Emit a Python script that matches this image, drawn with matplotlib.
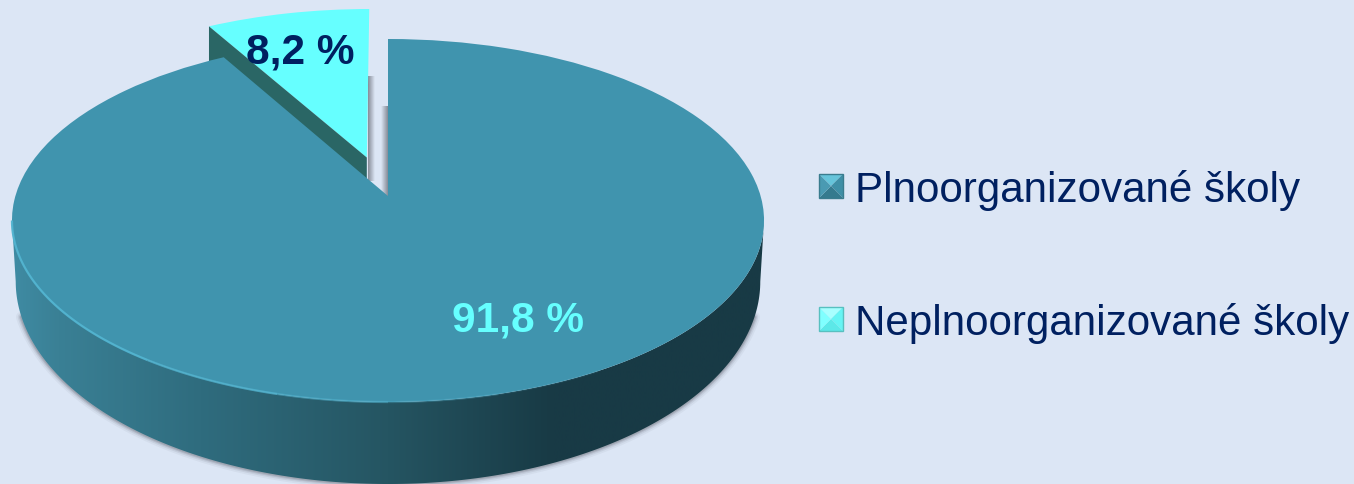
import matplotlib
matplotlib.use("Agg")
import matplotlib.pyplot as plt
import matplotlib.transforms as mtransforms
from matplotlib.colors import LinearSegmentedColormap
from matplotlib.patches import Polygon
import numpy as np

categories = ["Plnoorganizované školy", "Neplnoorganizované školy"]
values = [91.8, 8.2]
explode = [0, 0.23]

BG = "#dce6f5"
TOP_COLORS = ["#4094ae", "#66ffff"]
WALL_COLOR = "#2a6665"
TEXT_COLOR = "#002060"

W, H = 1354, 485
CX, CY = 388, 197      # pie centre in pixels
P = 0.135              # perspective strength
A, B = 372.6, 178.2    # x and y scale of the disc
DEPTH = 80


class DiscTransform(mtransforms.Transform):
    # maps the flat unit pie to the tilted disc, dz pushes it down
    input_dims = 2
    output_dims = 2

    def __init__(self, dz=0):
        super().__init__()
        self.dz = dz

    def transform_non_affine(self, values):
        values = np.asarray(values, dtype=float)
        w = 1 + P * values[:, 1]
        x = CX + A * values[:, 0] / w
        y = CY - B * values[:, 1] / w + self.dz
        return np.column_stack([x, y])


def disc_points(t_deg, dz=0):
    t = np.radians(t_deg)
    return DiscTransform(dz).transform_non_affine(np.column_stack([np.cos(t), np.sin(t)]))


def base_points(t_deg):
    # bottom outline of the pie, a bit narrower and rounder than the top
    pts = disc_points(t_deg)
    x = CX + 0.99 * (pts[:, 0] - CX)
    y = 283 + (pts[:, 1] - 222) * 202 / 181
    return np.column_stack([x, y])


fig = plt.figure(figsize=(W / 100, H / 100), dpi=100, facecolor=BG)
ax = fig.add_axes([0, 0, 1, 1])

wedges, _ = ax.pie(values, colors=TOP_COLORS, explode=explode, startangle=90,
                   counterclock=False, wedgeprops={"linewidth": 0})
ax.set_aspect("auto")
ax.set_facecolor(BG)
ax.set_axis_off()

big, small = wedges
disc = DiscTransform()
big.set_transform(disc + ax.transData)
small.set_transform(disc + ax.transData)
big.set_zorder(6)
small.set_zorder(3)

# wall on the left cut of the pulled out slice
sx, sy = small.center
t1 = np.radians(small.theta2)
wall_uv = np.array([[sx, sy], [sx + np.cos(t1), sy + np.sin(t1)]])
wall_top = disc.transform_non_affine(wall_uv)
wall_low = DiscTransform(DEPTH).transform_non_affine(wall_uv)
ax.add_patch(Polygon(np.vstack([wall_top, wall_low[::-1]]), closed=True,
                     facecolor=WALL_COLOR, edgecolor="none", zorder=4))

# side of the big slice
t_left = 180 + np.degrees(np.arcsin(P))
t_right = 360 - np.degrees(np.arcsin(P))
ts = np.linspace(t_left, t_right, 200)
upper = disc_points(ts)
lower = base_points(ts)
side = Polygon(np.vstack([upper, lower[::-1]]), closed=True, facecolor="none",
               edgecolor="none", zorder=5)
ax.add_patch(side)
side_cmap = LinearSegmentedColormap.from_list(
    "side", [(0, "#3f8ba3"), (0.06, "#3a8095"), (0.25, "#2f6c7e"), (0.5, "#255562"),
             (0.72, "#183a45"), (1, "#183a45")])
grad = ax.imshow(np.linspace(0, 1, 256).reshape(1, -1), cmap=side_cmap, aspect="auto",
                 extent=[12, 764, H, 0], zorder=5)
grad.set_clip_path(side)

# soft shadow around the bottom of the side
shadow = lower[12:-12]
for lw, alpha in [(8, 0.06), (5.5, 0.1), (3.5, 0.16), (2, 0.2)]:
    ax.plot(shadow[:, 0], shadow[:, 1], color="#50525e", lw=lw, alpha=alpha, zorder=2,
            solid_capstyle="round")

# light rim on the front of the top, fading to the right
rim_stops = [(t_left, 235, 0.95), (235, 255, 0.8), (255, 270, 0.55), (270, 285, 0.3), (285, 300, 0.12)]
for a, b, alpha in rim_stops:
    rim = disc_points(np.linspace(a, b, 40))
    ax.plot(rim[:, 0], rim[:, 1], color="#52b4d0", lw=1.6, alpha=alpha, zorder=7,
            solid_capstyle="butt")

# shadows in the gap between slices
shade = np.zeros((1, 64, 4))
shade[0, :, :3] = matplotlib.colors.to_rgb("#70747f")
shade[0, :, 3] = np.linspace(0.8, 0, 64)
ax.imshow(shade, aspect="auto", extent=[368, 375, 182, 77], zorder=2)
ax.imshow(shade[:, ::-1], aspect="auto", extent=[381, 388, 197, 107], zorder=2)

# value labels
label_pos = [(518, 332), (300, 63)]
label_colors = ["#66ffff", TEXT_COLOR]
for v, pos, col in zip(values, label_pos, label_colors):
    ax.text(pos[0], pos[1], f"{v:.1f} %".replace(".", ","), color=col, fontsize=30.5,
            fontweight="bold", family="Liberation Sans", ha="center", va="baseline", zorder=8)

# legend
key_x, key_size = 819, 24
key_ys = [175, 308]
text_ys = [202, 335]
key_shades = [["#66c4da", "#3f8fa6", "#357a8e", "#4a9ab2"],
              ["#a8ffff", "#66f4f4", "#5ce8e8", "#80ffff"]]
key_edges = ["#3a7c8e", "#58c0c0"]
for name, ky, ty, sh, edge in zip(categories, key_ys, text_ys, key_shades, key_edges):
    c = (key_x + key_size / 2, ky + key_size / 2)
    corners = [(key_x, ky), (key_x + key_size, ky), (key_x + key_size, ky + key_size),
               (key_x, ky + key_size)]
    order = [(0, 1, sh[0]), (1, 2, sh[1]), (2, 3, sh[2]), (3, 0, sh[3])]
    for i, j, col in order:
        ax.add_patch(Polygon([corners[i], corners[j], c], closed=True, facecolor=col,
                             edgecolor="none", zorder=8))
    ax.add_patch(Polygon(corners, closed=True, facecolor="none", edgecolor=edge, lw=1, zorder=9))
    ax.text(855, ty, name, color=TEXT_COLOR, fontsize=30.3, family="Liberation Sans",
            ha="left", va="baseline", zorder=8)

ax.set_xlim(0, W)
ax.set_ylim(H, 0)
fig.savefig("out.png", dpi=100, facecolor=BG)
